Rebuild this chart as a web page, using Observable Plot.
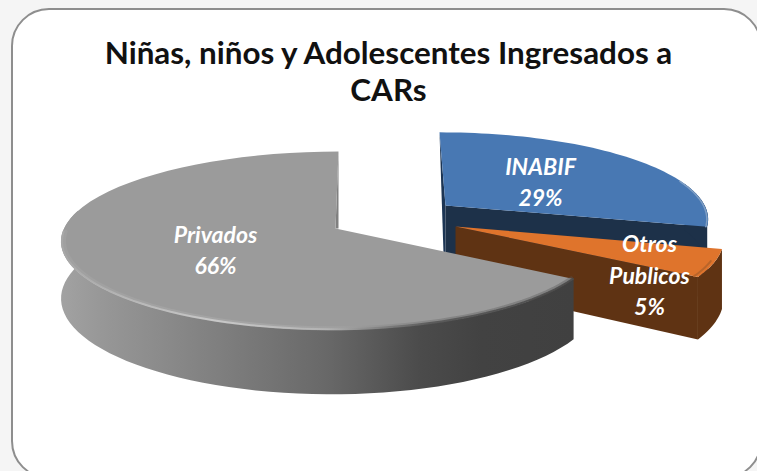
<!DOCTYPE html>
<html lang="es">
<head>
<meta charset="utf-8">
<script src="https://cdn.jsdelivr.net/npm/d3@7"></script>
<script src="https://cdn.jsdelivr.net/npm/@observablehq/plot@0.6"></script>
<style>
  html, body { margin: 0; width: 757px; height: 471px; overflow: hidden; background: #f5f5f5; }
  #card { position: absolute; left: 11px; top: 8px; width: 751px; height: 471px; box-sizing: border-box;
          border: 2.5px solid #8e8e8e; border-radius: 38px; background: #fff; filter: blur(0.5px); }
  #title { position: absolute; left: 0; top: 34px; width: 777px; text-align: center;
           font: 700 31.4px/37px Lato, sans-serif; color: #111; white-space: pre-line; }
  #chart { position: absolute; left: 0; top: 0; }
  #chart svg { background: transparent; }
  [aria-label="labels"] text { text-shadow: 1px 1px 2px rgba(0,0,0,.35); letter-spacing: 0.9px; }
</style>
</head>
<body>
<div id="card"></div>
<div id="title"></div>
<div id="chart"></div>
<script>
const titleLines = ["Niñas, niños y Adolescentes Ingresados a", "CARs"];
const categories = ["INABIF", "Otros Publicos", "Privados"];
const shares = [29, 5, 66];

// Drawing layout of each exploded slice, kept apart from the data.
const W = 757, H = 471;
const RY = 87.4, P = 0.135, A = 267.3, B = -4.2;
const layout = {
  "INABIF":         {x: 445, y: 205, sx: 0.985, sy: 0.95, k: 6.8,  h: 48},
  "Otros Publicos": {x: 455, y: 226, sx: 1.01,  sy: 1,    k: 0,    h: 58},
  "Privados":       {x: 335, y: 228, sx: 1,     sy: 1,    k: -3.4, h: 56}
};

// Pie angles come straight from the shares, clockwise from twelve o'clock.
const arcs = d3.pie().sort(null).value(d => d)(shares);
const slices = new Map(categories.map((c, i) => [c, arcs[i]]));

// Tilted-disc projection with perspective: nearer parts of the disc appear larger.
function project(L, angle, r = 1, drop = 0) {
  const u = Math.sin(angle) * r, v = -Math.cos(angle) * r;
  const s = 1 / (1 - P * v);
  return {
    x: L.x + L.sx * s * (A * u + B * u * u) + L.k * v * s,
    y: L.y + L.sy * s * RY * v + drop * s
  };
}
const arcPts = (L, a0, a1, r = 1, drop = 0) =>
  d3.range(0, 61).map(i => project(L, a0 + (a1 - a0) * i / 60, r, drop));
const topFace = (L, a0, a1) => [project(L, 0, 0), ...arcPts(L, a0, a1), project(L, 0, 0)];
const outerSide = (L, a0, a1) => [...arcPts(L, a0, a1), ...arcPts(L, a0, a1, 1, L.h).reverse()];
const cutFace = (L, a) => [project(L, 0, 0), project(L, a), project(L, a, 1, L.h), project(L, 0, 0, L.h)];
const poly = (pts, fill, extra = {}) => Plot.line(pts, {x: "x", y: "y", fill, stroke: "none", ...extra});
const edge = (pts, stroke, strokeWidth, extra = {}) =>
  Plot.line(pts, {x: "x", y: "y", stroke, strokeWidth, fill: "none", ...extra});

const lb = layout["INABIF"], lo = layout["Otros Publicos"], lp = layout["Privados"];
const ab = slices.get("INABIF"), ao = slices.get("Otros Publicos"), ap = slices.get("Privados");
const TAU = 2 * Math.PI, deg = Math.PI / 180;

// Horizontal gradients for the shaded walls and bevels.
function gradient(id, stops) {
  return `<linearGradient id="${id}" gradientUnits="objectBoundingBox" x1="0" x2="1" y1="0" y2="0">` +
    stops.map(([o, c]) => `<stop offset="${o}" stop-color="${c}"/>`).join("") + `</linearGradient>`;
}
const defs = () => {
  const g = document.createElementNS("http://www.w3.org/2000/svg", "defs");
  g.innerHTML =
    gradient("graySide", [[0, "#a2a2a2"], [0.08, "#979797"], [0.27, "#838383"], [0.52, "#686868"], [0.7, "#4b4b4b"], [0.82, "#424242"], [1, "#404040"]]) +
    gradient("rimWide", [[0, "#a8a8a8"], [0.4, "#b4b4b4"], [0.55, "#a6a6a6"], [0.62, "#8a8a8a"], [0.75, "#626262"], [1, "#555555"]]) +
    gradient("rimCore", [[0, "#a8a8a8"], [0.3, "#cccccc"], [0.52, "#b4b4b4"], [0.6, "#8a8a8a"], [0.72, "#565656"], [1, "#484848"]]);
  return g;
};

// Label rows: the second word of a category goes onto its own line.
const labelAt = {"INABIF": [540, 180], "Otros Publicos": [649, 273], "Privados": [215, 248]};
const labels = categories.map((c, i) => ({
  text: `${c.replace(" ", "\n")}\n${shares[i]}%`,
  x: labelAt[c][0], y: labelAt[c][1]
}));

const corner = project(lb, 0);
const cornerGray = project(lp, TAU);

const plot = Plot.plot({
  width: W, height: H,
  margin: 0,
  x: {domain: [0, W], range: [0, W], axis: null},
  y: {domain: [0, H], range: [0, H], axis: null},
  marks: [
    defs,
    // INABIF: inner walls, outer wall, top
    poly([corner, project(lb, 0, 0), project(lb, 0, 0, lb.h), {x: corner.x + 4, y: project(lb, 0, 0, lb.h).y}], "#1c3554"),
    poly(cutFace(lb, ab.endAngle), "#1d3149"),
    poly(outerSide(lb, ab.endAngle - 30 * deg, ab.endAngle), "#1d3149"),
    poly(topFace(lb, ab.startAngle, ab.endAngle), "#4878b3"),
    edge(arcPts(lb, ab.endAngle - 32 * deg, ab.endAngle, 0.995), "#7f9ec4", 1.5),
    // Otros Publicos: walls and top
    poly(cutFace(lo, ao.endAngle), "#5f3313"),
    poly(outerSide(lo, ao.startAngle, ao.endAngle), "#5f3313"),
    poly(topFace(lo, ao.startAngle, ao.endAngle), "#df742c"),
    edge(arcPts(lo, ao.startAngle + 8 * deg, ao.endAngle, 0.985), "#b9652a", 2),
    // Privados: wall, cut sliver, top, bevel
    poly([cornerGray, project(lp, 0, 0), {x: project(lp, 0, 0).x + 3, y: project(lp, 0, 0).y}], "#808080"),
    poly(outerSide(lp, ap.startAngle, 282 * deg), "url(#graySide)"),
    poly(topFace(lp, ap.startAngle, ap.endAngle), "#9b9b9b"),
    edge(arcPts(lp, ap.startAngle, 268 * deg, 0.99), "url(#rimWide)", 4, {strokeOpacity: 0.4}),
    edge(arcPts(lp, ap.startAngle, 268 * deg, 0.997), "url(#rimCore)", 2, {strokeOpacity: 0.9}),
    // Labels
    Plot.text(labels, {
      x: "x", y: "y", text: "text", fill: "white",
      fontFamily: "Lato, sans-serif", fontWeight: 700, fontStyle: "italic", fontSize: 23,
      lineHeight: 1.36, textAnchor: "middle", ariaLabel: "labels"
    })
  ]
});
document.getElementById("title").textContent = titleLines.join("\n");
document.getElementById("chart").append(plot);
</script>
</body>
</html>
